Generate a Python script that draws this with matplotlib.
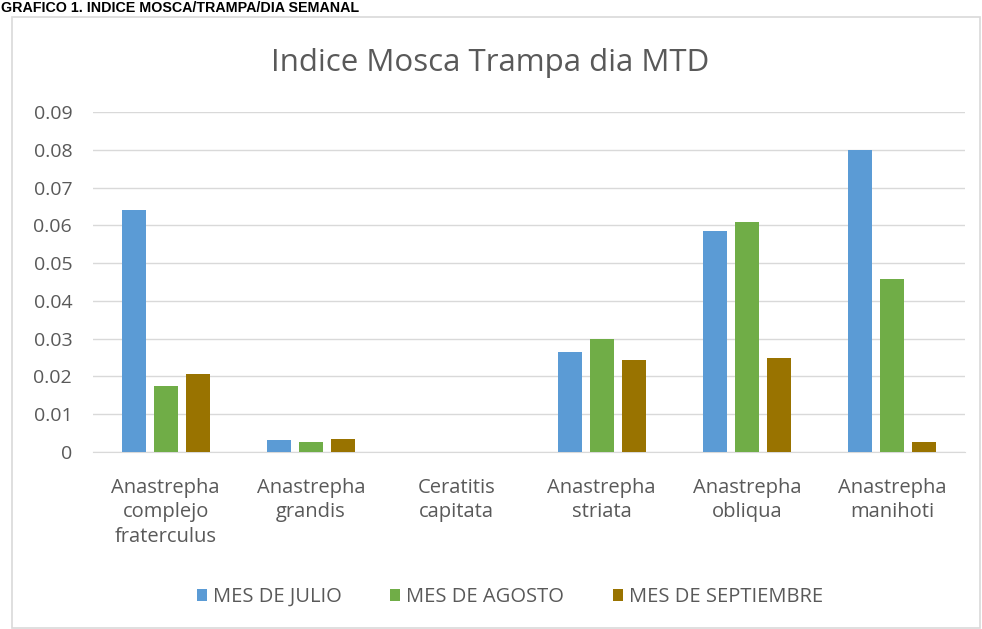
import numpy as np
import matplotlib
matplotlib.use("Agg")
import matplotlib.pyplot as plt
from matplotlib.patches import Rectangle

categories = ["Anastrepha\ncomplejo\nfraterculus", "Anastrepha\ngrandis", "Ceratitis\ncapitata",
              "Anastrepha\nstriata", "Anastrepha\nobliqua", "Anastrepha\nmanihoti"]
series_names = ["MES DE JULIO", "MES DE AGOSTO", "MES DE SEPTIEMBRE"]
julio = [0.064, 0.0033, 0.0, 0.0266, 0.0585, 0.080]
agosto = [0.0176, 0.0026, 0.0, 0.0298, 0.0609, 0.0458]
septiembre = [0.0206, 0.0034, 0.0, 0.0243, 0.0250, 0.0027]
yticks = [0, 0.01, 0.02, 0.03, 0.04, 0.05, 0.06, 0.07, 0.08, 0.09]
ytick_labels = ["0", "0.01", "0.02", "0.03", "0.04", "0.05", "0.06", "0.07", "0.08", "0.09"]

colors = ["#5B9BD5", "#70AD47", "#997300"]
txt = "#595959"
plt.rcParams['font.family'] = ['Open Sans', 'DejaVu Sans']

fig = plt.figure(figsize=(9.82, 6.29), dpi=100)

# outer chart frame
fig.patches.append(Rectangle((12 / 982, 0.002), 968 / 982, 1 - 17 / 629 - 0.002,
                             transform=fig.transFigure, fill=False,
                             edgecolor="#D9D9D9", linewidth=1.2))

fig.text(1 / 982, 1 - 8 / 629, "GRAFICO 1. INDICE MOSCA/TRAMPA/DIA SEMANAL",
         family="Liberation Sans", fontweight="bold", fontsize=10.3,
         ha="left", va="center", color="black")
fig.text(490 / 982, 1 - 63 / 629, "Indice Mosca Trampa dia MTD",
         fontsize=22.5, color=txt, ha="center", va="center")

ax = fig.add_axes([93 / 982, 1 - 452 / 629, 872 / 982, 340 / 629])
x = np.arange(len(categories))
width = 0.167
step = 0.22
for i, (vals, name) in enumerate(zip([julio, agosto, septiembre], series_names)):
    ax.bar(x + (i - 1) * step, vals, width, color=colors[i], label=name, zorder=3)

ax.set_xlim(-0.5, len(categories) - 0.5)
ax.set_ylim(0, 0.09)
ax.set_yticks(yticks)
ax.set_yticklabels(ytick_labels)
ax.set_xticks(x)
ax.set_xticklabels(categories, linespacing=1.3, fontsize=14.5)
ax.tick_params(axis="y", labelsize=14)
ax.tick_params(axis="both", length=0, colors=txt)
ax.tick_params(axis="y", pad=15)
ax.tick_params(axis="x", pad=18.5)
for lab in ax.get_yticklabels():
    lab.set_horizontalalignment("right")
ax.grid(axis="y", color="#D9D9D9", linewidth=1, zorder=0)
for s in ["top", "right", "left"]:
    ax.spines[s].set_visible(False)
ax.spines["bottom"].set_color("#D9D9D9")

leg = fig.legend(loc="center", bbox_to_anchor=(510 / 982, 1 - 597 / 629), ncol=3,
                 frameon=False, fontsize=14.5, handlelength=0.5, handleheight=0.5,
                 handletextpad=0.3, columnspacing=2.4)
for t in leg.get_texts():
    t.set_color(txt)

fig.savefig("out.png", dpi=100, facecolor="white")
